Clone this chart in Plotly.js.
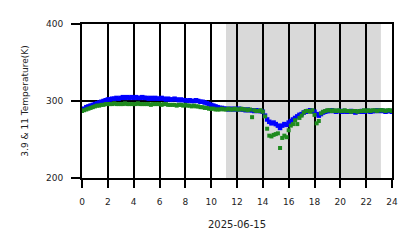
<!DOCTYPE html>
<html>
<head>
<meta charset="utf-8">
<script src="https://cdn.plot.ly/plotly-3.0.1.min.js"></script>
<style>html,body{margin:0;padding:0;background:#fff;}#chart{width:418px;height:248px;}</style>
</head>
<body>
<div id="chart"></div>
<script>
// 10-minute samples, 00:00 to 24:00 (hours)
const blueTemp = [
289,290,292,293,294,295,296,297,298,299,300,301,
302,302,303,303,304,303,304,305,304,305,304,305,
304,305,304,304,305,304,304,303,304,303,304,303,
303,304,303,302,303,302,302,303,302,301,302,301,
301,300,301,300,300,301,300,299,299,298,297,296,
295,294,293,292,291,291,290,290,289,290,289,290,
289,290,289,289,288,289,288,288,287,288,287,287,
286,281,276,273,271,272,270,268,265,268,270,269,
272,274,276,278,280,282,283,285,286,287,288,287,
286,283,281,283,285,286,287,287,288,287,286,287,
287,286,287,286,286,287,286,285,286,286,287,286,
287,287,286,287,287,288,287,288,287,286,287,287,
286
];
const greenTemp = [
287,288,289,290,291,292,293,294,294,295,295,296,
296,296,296,297,296,296,296,296,297,296,296,296,
296,296,297,296,296,296,296,296,295,296,296,296,
296,295,296,296,295,295,295,295,294,295,295,294,
295,294,294,293,294,293,293,292,292,291,291,290,
290,290,289,289,289,290,289,289,290,289,289,290,
289,289,290,289,289,288,289,279,288,287,287,288,
286,280,264,255,254,256,257,258,239,252,255,253,
262,268,270,275,270,278,281,285,287,287,286,288,
282,271,274,284,286,287,288,288,287,288,287,288,
287,287,288,287,287,286,287,287,286,287,287,288,
287,288,287,288,288,287,288,288,288,287,288,288,
287
];
const hours = blueTemp.map((_, i) => i / 6);
const xTicks = [0,2,4,6,8,10,12,14,16,18,20,22,24];
const yTicks = [200,300,400];
const shadeStart = 11.15, shadeEnd = 23.14;
const dateLabel = '2025-06-15';
const yLabel = '3.9 & 11 Temperature(K)';

const traces = [
  {x: hours, y: blueTemp, type: 'scatter', mode: 'markers', name: '3.9',
   marker: {symbol: 'square', size: 4.5, color: '#0000ff'}},
  {x: hours, y: greenTemp, type: 'scatter', mode: 'markers', name: '11',
   marker: {symbol: 'square', size: 4, color: '#1e8a1e'}}
];
const font = {family: 'DejaVu Sans, sans-serif', size: 9, color: '#222'};
const layout = {
  width: 418, height: 248,
  margin: {l: 82, r: 26, t: 24, b: 70, pad: 0},
  paper_bgcolor: '#fff', plot_bgcolor: '#fff',
  showlegend: false,
  font: font,
  xaxis: {range: [0, 24], tickvals: xTicks, ticktext: xTicks.map(String),
    showgrid: true, gridcolor: '#000', gridwidth: 2, zeroline: false,
    showline: true, linecolor: '#000', linewidth: 2, mirror: true,
    ticks: 'outside', ticklen: 8, tickwidth: 2, tickcolor: '#000',
    ticklabelstandoff: 6,
    title: {text: dateLabel, font: {family: 'DejaVu Sans, sans-serif', size: 10, color: '#222'}, standoff: 15},
    automargin: false, fixedrange: true},
  yaxis: {range: [200, 400], tickvals: yTicks, ticktext: yTicks.map(String),
    showgrid: true, gridcolor: '#000', gridwidth: 2, zeroline: false,
    showline: true, linecolor: '#000', linewidth: 2, mirror: true,
    ticks: 'outside', ticklen: 9, tickwidth: 2, tickcolor: '#000',
    ticklabelstandoff: 6,
    title: {text: yLabel, font: {family: 'DejaVu Sans, sans-serif', size: 9, color: '#222'}, standoff: 16},
    automargin: false, fixedrange: true},
  shapes: [{type: 'rect', xref: 'x', yref: 'y', x0: shadeStart, x1: shadeEnd, y0: 200, y1: 400,
    fillcolor: '#d9d9d9', line: {width: 0}, layer: 'below'}]
};
Plotly.newPlot('chart', traces, layout, {displayModeBar: false, staticPlot: true});
</script>
</body>
</html>
